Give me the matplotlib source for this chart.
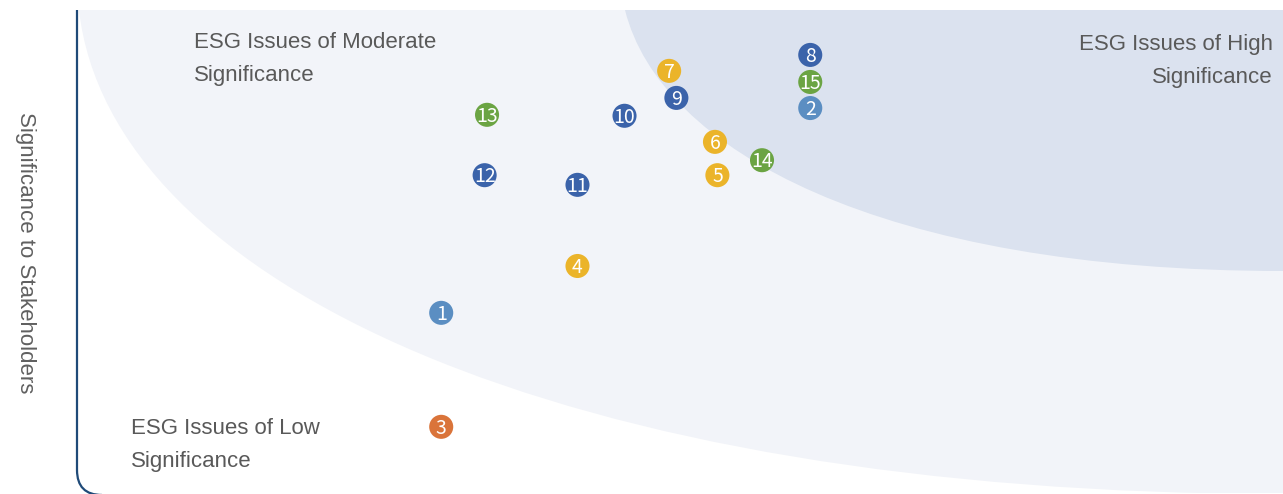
"""ESG materiality matrix recreated with matplotlib."""
import matplotlib.pyplot as plt
from matplotlib.path import Path
from matplotlib.patches import PathPatch
from matplotlib.transforms import Affine2D

W, H = 1283, 494

# Issue number, significance to business (x), significance to stakeholders (y)
issue_ids = [1, 2, 3, 4, 5, 6, 7, 8, 9, 10, 11, 12, 13, 14, 15]
x_values = [30.2, 60.8, 30.2, 41.5, 53.1, 52.9, 49.1, 60.8, 49.7, 45.4,
            41.5, 33.8, 34.0, 56.8, 60.8]
y_values = [37.3, 79.7, 13.7, 47.0, 65.8, 72.7, 87.4, 90.7, 81.8, 78.1,
            63.8, 65.8, 78.3, 68.9, 85.1]
groups = ["light", "light", "orange", "yellow", "yellow", "yellow", "yellow",
          "dark", "dark", "dark", "dark", "dark", "green", "green", "green"]

group_colors = {
    "light": "#5b8ec2",
    "dark": "#3b63aa",
    "yellow": "#ebb42a",
    "green": "#6ba443",
    "orange": "#da743a",
}

zone_labels = ["ESG Issues of Moderate\nSignificance",
               "ESG Issues of High\nSignificance",
               "ESG Issues of Low\nSignificance"]
y_label = "Significance to Stakeholders"


def main():
    fig = plt.figure(figsize=(W / 100, H / 100), dpi=100)
    # plot area: x 77..1283 px, y 10..493 px
    ax = fig.add_axes([77 / W, 1 - 493 / H, (W - 77) / W, (493 - 10) / H])
    ax.set_xlim(0, 100)
    ax.set_ylim(0, 100)
    ax.axis("off")

    # pixel (y down) transform for the decoration
    px = Affine2D().scale(1 / W, -1 / H).translate(0, 1) + fig.transFigure

    # light zone
    light = Path([(79, 10), (110, 282), (558, 494), (1283, 494),
                  (1283, 10), (79, 10)],
                 [Path.MOVETO, Path.CURVE4, Path.CURVE4, Path.CURVE4,
                  Path.LINETO, Path.CLOSEPOLY])
    ax.add_patch(PathPatch(light, transform=px, facecolor="#f2f4f9",
                           edgecolor="none", zorder=0))
    # high significance zone
    dark = Path([(625, 10), (660, 150), (880, 271), (1283, 271),
                 (1283, 10), (625, 10)],
                [Path.MOVETO, Path.CURVE4, Path.CURVE4, Path.CURVE4,
                 Path.LINETO, Path.CLOSEPOLY])
    ax.add_patch(PathPatch(dark, transform=px, facecolor="#dbe2ef",
                           edgecolor="none", zorder=1))

    # L-shaped axis with rounded corner
    axis_line = Path([(77, 10), (77, 470), (77, 495), (102, 495),
                      (1283, 495)],
                     [Path.MOVETO, Path.LINETO, Path.CURVE3, Path.CURVE3,
                      Path.LINETO])
    ax.add_patch(PathPatch(axis_line, transform=px, facecolor="none",
                           edgecolor="#1f4a78", linewidth=1.6,
                           clip_on=False, zorder=2))

    colors = [group_colors[g] for g in groups]
    ax.scatter(x_values, y_values, s=300, c=colors, edgecolors="none",
               zorder=3, clip_on=False)
    for n, x, y in zip(issue_ids, x_values, y_values):
        ax.text(x, y - 0.3, str(n), color="white", fontsize=14,
                family=["Noto Sans CJK SC", "DejaVu Sans"],
                ha="center", va="center", zorder=4)

    text_kw = dict(color="#595959", fontsize=16, family="Liberation Sans",
                   linespacing=1.8, transform=px, va="center")
    ax.text(194, 59, zone_labels[0], ha="left", **text_kw)
    ax.text(1273, 61, zone_labels[1], ha="right", multialignment="right",
            **text_kw)
    ax.text(131, 445, zone_labels[2], ha="left", **text_kw)

    ax.text(25, 253, y_label, rotation=270, color="#606060", fontsize=16,
            family="Liberation Sans", ha="center", va="center", transform=px)

    fig.savefig("out.png", dpi=100)


main()
